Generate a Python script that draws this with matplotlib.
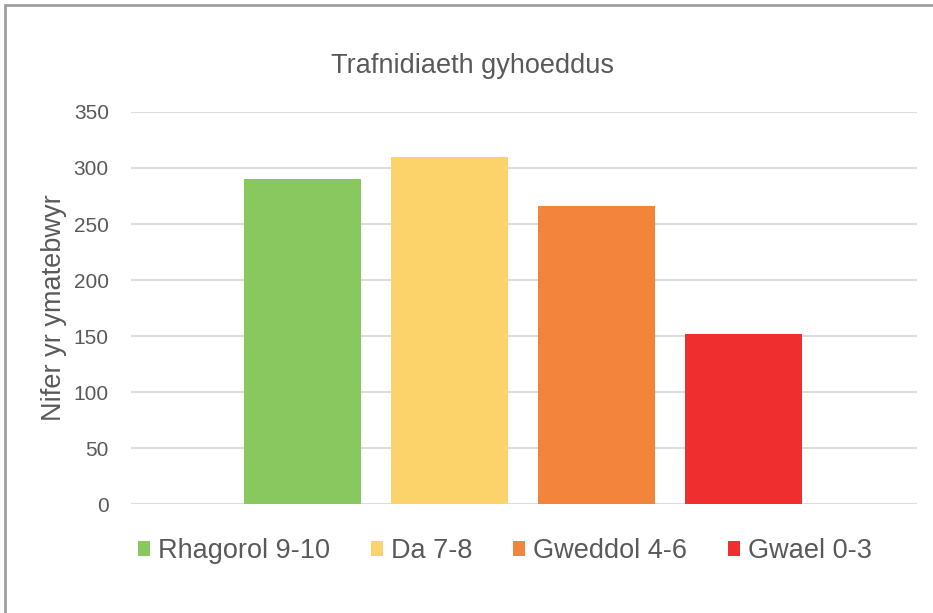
import matplotlib
matplotlib.use("Agg")
import matplotlib.pyplot as plt
from matplotlib.patches import Rectangle

title = "Trafnidiaeth gyhoeddus"
ylabel = "Nifer yr ymatebwyr"
series = ["Rhagorol 9-10", "Da 7-8", "Gweddol 4-6", "Gwael 0-3"]
values = [290, 310, 266, 152]
colors = ["#89C75F", "#FCD36A", "#F3843C", "#EE2E2F"]
yticks = [0, 50, 100, 150, 200, 250, 300, 350]

plt.rcParams['font.family'] = ['Liberation Sans', 'DejaVu Sans']

W, H = 933, 613
fig = plt.figure(figsize=(W / 100, H / 100), dpi=100)
ax = fig.add_axes([131 / W, 1 - 504 / H, (917 - 131) / W, (504 - 112) / H])

x = list(range(len(series)))
bars = ax.bar(x, values, width=0.79, color=colors, label=series, zorder=3)

ax.set_ylim(0, 350)
ax.set_xlim(-1.167, 4.18)
ax.set_yticks(yticks)
ax.set_yticklabels([str(t) for t in yticks], fontsize=15, color="#595959")
ax.set_xticks([])
ax.tick_params(axis='y', length=0, pad=16)
ax.grid(axis='y', color="#D9D9D9", linewidth=1.3, zorder=0)
for s in ax.spines.values():
    s.set_visible(False)

ax.set_ylabel(ylabel, fontsize=19.5, color="#595959", labelpad=5)
fig.text(473 / W, 1 - 66 / H, title, ha='center', va='center', fontsize=19.5, color="#595959")

leg = fig.legend(handles=bars, labels=series, loc='center', bbox_to_anchor=(505 / W, 1 - 551 / H),
                 ncol=4, frameon=False, fontsize=19.5, handlelength=0.45, handleheight=0.45,
                 handletextpad=0.3, columnspacing=1.5, labelcolor="#595959")

# outer border
fig.add_artist(Rectangle((5 / W, -0.01), 1.0, 1 - 5 / H + 0.01, transform=fig.transFigure,
                         fill=False, edgecolor="#A0A0A0", linewidth=2))

fig.savefig("out.png", dpi=100)
